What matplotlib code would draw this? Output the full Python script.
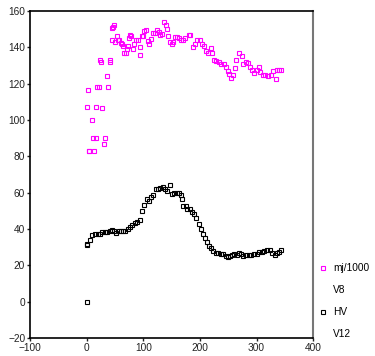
import matplotlib
matplotlib.use('Agg')
import matplotlib.pyplot as plt
from matplotlib.lines import Line2D

# mj/1000 (V8)
mj_x = [0, 2, 3.5, 5, 9, 12, 13.5, 16, 17, 18, 21, 23, 26, 27, 30, 32, 36, 37, 41, 41.5,
        44, 45, 47, 49, 50, 53.6, 55, 58, 60, 62, 64, 66.5, 68.8, 71, 73, 75, 77, 79, 82, 84,
        88, 91, 94, 95, 97, 99.5, 101, 104, 108, 111, 114, 117, 121, 123.6, 127, 130, 133,
        137, 139.5, 142, 144, 147, 150, 153, 156.6, 160, 163, 167, 171, 173, 180.7, 183,
        188, 191, 195, 200, 203, 207, 210, 215, 219, 222, 225.6, 229, 234, 238, 242, 246.7,
        249.6, 252, 255.6, 258.6, 261.6, 264.5, 269, 274, 276, 280.6, 285, 288, 292, 296,
        300, 304, 307, 311, 315.5, 320, 325, 330, 333.6, 336, 340.6, 344]
mj_y = [107, 116.5, 83, 83, 100, 90, 83, 90, 107, 118, 118, 133, 132, 106.6, 87, 90, 124, 118, 133, 132,
        144, 150.6, 151, 152.5, 143, 146.2, 144, 144, 142.4, 142, 141, 137, 137, 139, 141, 145, 147, 146, 139, 142,
        144, 144, 136, 140, 146, 146.5, 149, 149.5, 143.6, 142, 144.5, 148, 148, 149.5, 148.5, 147, 147.5,
        154, 152.5, 150, 146.5, 143, 141.7, 143, 145.5, 145.6, 145, 144, 144, 145, 146.8, 147,
        140, 142, 144, 144, 142, 141, 138, 137, 139.5, 137, 133, 132.5, 131.8, 131, 130.7, 129.3,
        127, 125.5, 123, 125, 128.6, 133, 136.7, 135, 131, 132, 131.5, 129.3, 127.5, 125.7,
        127.5, 129.3, 126.5, 125, 124.6, 124, 124.6, 127, 122.5, 127.8, 127.8, 127.8]

# HV (V12)
hv_x = [0, 0, 1, 6.5, 10, 15, 19.8, 23, 26.7, 32, 36, 40.6, 44, 48, 52.7, 57, 61, 64.6, 68, 72.8,
        76.3, 80.5, 85, 89.5, 94, 98.5, 101, 106, 109.7, 113, 117.8, 122.5, 126.7, 130, 134.6,
        138, 142, 147, 151, 155, 160, 164, 167, 169, 171, 175.6, 177, 183, 186.6, 190, 193.8,
        198.5, 202, 205.4, 208.9, 212.5, 216, 219.5, 223, 227.6, 232, 237, 241.6, 246.3, 249.8,
        253.4, 257, 260.5, 265, 268.5, 272, 277, 281.6, 286, 290.7, 295.5, 300, 304.7, 309.4,
        314, 318.8, 323.5, 328, 333, 336.6, 340, 344]
hv_y = [0, 31.7, 31, 34, 36.5, 37, 37.3, 37.3, 38.4, 38.4, 38.4, 39, 39.5, 39, 38, 39, 39, 38.7, 39, 40,
        41, 42, 43.4, 43.8, 45.2, 49.8, 53.4, 56.3, 55.2, 57.8, 58.7, 61.8, 62, 62.3, 63.3,
        62, 61, 64, 59.5, 60, 60, 60, 58.5, 56.5, 52.7, 52.7, 51, 51, 49.6, 48.4, 46,
        43, 40, 37.4, 35, 32.6, 30.8, 29.5, 27.7, 26.8, 26.8, 26.4, 26.4, 25, 24.6,
        25.3, 25.9, 26.2, 25.7, 26.8, 26.4, 25.3, 25.7, 25.7, 25.7, 26, 26.4, 27.1, 27.5,
        28, 28.6, 28.2, 27, 25.9, 26.8, 27.5, 28.2]

x_ticks = [-100, 0, 100, 200, 300, 400]
y_ticks = [-20, 0, 20, 40, 60, 80, 100, 120, 140, 160]

plt.rcParams['font.family'] = ['Liberation Sans', 'DejaVu Sans']
plt.rcParams['font.size'] = 7.3

fig = plt.figure(figsize=(3.75, 3.56), dpi=100)
ax = fig.add_axes([0.08, 0.0506, 0.755, 0.9184])

ax.plot(mj_x, mj_y, ls='none', marker='s', ms=3.2, mfc='none', mec='#ff00ff', mew=0.8)
ax.plot(hv_x, hv_y, ls='none', marker='s', ms=3.2, mfc='none', mec='black', mew=0.8)

ax.set_xlim(-100, 400)
ax.set_ylim(-20, 160)
ax.set_xticks(x_ticks)
ax.set_yticks(y_ticks)
ax.tick_params(length=2, width=1, pad=1.5, colors='#222222')
for s in ['left', 'bottom', 'top']:
    ax.spines[s].set_linewidth(1.2)
    ax.spines[s].set_color('black')
ax.spines['right'].set_color('#777777')
ax.spines['right'].set_linewidth(1.5)

# legend: marker on the first line, variable name underneath
blank = Line2D([], [], ls='none')
h1 = Line2D([], [], ls='none', marker='s', ms=3, mfc='none', mec='#ff00ff', mew=0.8)
h2 = Line2D([], [], ls='none', marker='s', ms=3, mfc='none', mec='black', mew=0.8)
ax.legend([h1, blank, h2, blank], ['mj/1000', 'V8', 'HV', 'V12'],
          loc='upper left', bbox_to_anchor=(1.0, 0.25), frameon=False,
          handlelength=0.6, handletextpad=0.7, labelspacing=1.17,
          borderaxespad=0.3, fontsize=7.3)

fig.savefig('out.png', dpi=100)
